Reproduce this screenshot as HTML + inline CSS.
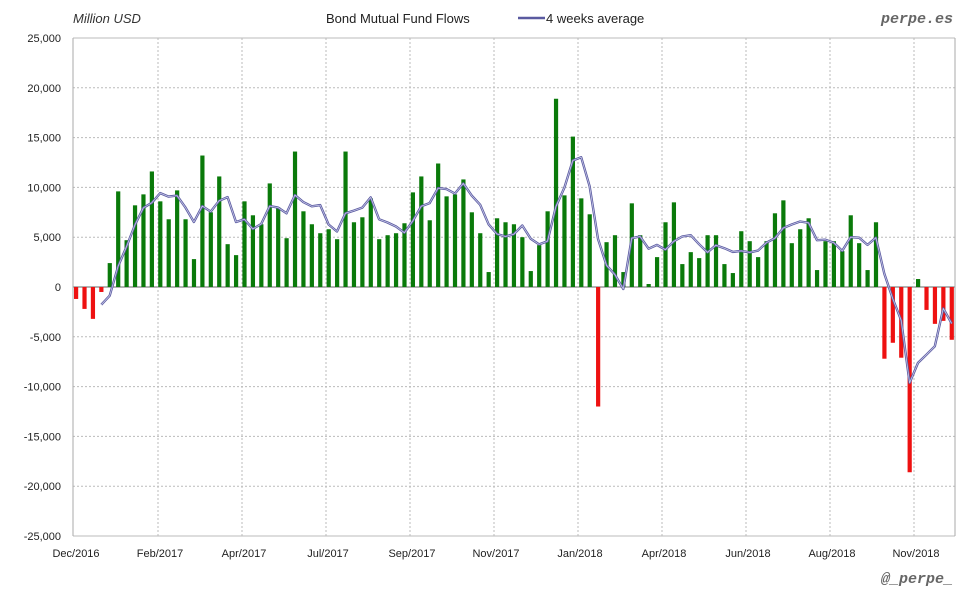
<!DOCTYPE html>
<html><head><meta charset="utf-8"><style>
body{margin:0;background:#fff;}
svg{display:block;font-family:"Liberation Sans",sans-serif;}
</style></head><body>
<svg id="s" width="980" height="600" xmlns="http://www.w3.org/2000/svg">
<rect width="980" height="600" fill="#fff"/>
<g id="grid"></g>
<g id="bars"></g>
<g id="lab" font-size="11" fill="#222"></g>
<polyline id="avg" fill="none" stroke="#5a5aa0" stroke-width="2.4" stroke-linejoin="round"/>
<polyline id="avg2" fill="none" stroke="#c8c8e8" stroke-width="0.8" stroke-linejoin="round"/>
<text x="73" y="23" font-size="13" font-style="italic" fill="#333">Million USD</text>
<text x="326" y="23" font-size="13" fill="#222">Bond Mutual Fund Flows</text>
<line x1="518" y1="18" x2="545" y2="18" stroke="#5a5aa0" stroke-width="2.4"/>
<text x="546" y="23" font-size="13" fill="#222">4 weeks average</text>
<text x="953" y="23" font-size="15" font-weight="bold" font-style="italic" fill="#666" text-anchor="end" font-family="Liberation Mono,monospace">perpe.es</text>
<text x="953" y="583" font-size="15" font-weight="bold" font-style="italic" fill="#666" text-anchor="end" font-family="Liberation Mono,monospace">@_perpe_</text>
</svg>
<script>
var d=[-1.2,-2.2,-3.2,-0.5,2.4,9.6,4.7,8.2,9.3,11.6,8.6,6.8,9.7,6.8,2.8,13.2,7.5,11.1,4.3,3.2,8.6,7.2,6.3,10.4,8.0,4.9,13.6,7.6,6.3,5.4,5.8,4.8,13.6,6.5,7.0,8.9,4.8,5.2,5.4,6.4,9.5,11.1,6.7,12.4,9.1,9.3,10.8,7.5,5.4,1.5,6.9,6.5,6.3,5.0,1.6,4.2,7.6,18.9,9.2,15.1,8.9,7.3,-12.0,4.5,5.2,1.5,8.4,5.2,0.3,3.0,6.5,8.5,2.3,3.5,2.9,5.2,5.2,2.3,1.4,5.6,4.6,3.0,4.6,7.4,8.7,4.4,5.8,6.9,1.7,4.6,4.6,3.6,7.2,4.4,1.7,6.5,-7.2,-5.6,-7.1,-18.6,0.8,-2.3,-3.7,-3.4,-5.3];
var NS="http://www.w3.org/2000/svg",L=73,R=955,Z=287,K=9.96;
function el(p,t,a,txt){var e=document.createElementNS(NS,t);for(var k in a)e.setAttribute(k,a[k]);if(txt)e.textContent=txt;document.getElementById(p).appendChild(e);return e;}
for(var i=-5;i<=5;i++){var y=Z-i*5*K;
 el('grid','line',{x1:L,x2:R,y1:y,y2:y,stroke:i==0?'#999':'#bbb','stroke-width':i==0?1.5:1,'stroke-dasharray':(i==0||Math.abs(i)==5)?'':'2,2'});
 var v=i*5000;var s=Math.abs(v).toLocaleString('en-US');if(v<0)s='-'+s;
 el('lab','text',{x:61,y:y+4,'text-anchor':'end'},s);}
var ml=['Dec/2016','Feb/2017','Apr/2017','Jul/2017','Sep/2017','Nov/2017','Jan/2018','Apr/2018','Jun/2018','Aug/2018','Nov/2018'];
for(var j=0;j<11;j++){var x=74+84*j;
 if(j>0)el('grid','line',{x1:x,x2:x,y1:38,y2:536,stroke:'#bbb','stroke-dasharray':'2,2'});
 el('lab','text',{x:x+2,y:557,'text-anchor':'middle'},ml[j]);}
el('grid','line',{x1:L,x2:L,y1:38,y2:536,stroke:'#aaa'});
el('grid','line',{x1:R,x2:R,y1:38,y2:536,stroke:'#aaa'});
var pts=[];
for(var i=0;i<d.length;i++){var x=76+8.42*i,h=d[i]*K;
 el('bars','rect',{x:x-2,width:4.2,y:h>0?Z-h:Z,height:Math.abs(h),fill:h>0?'#0a7a0a':'#ee1111'});
 if(i>=3){var m=(d[i]+d[i-1]+d[i-2]+d[i-3])/4;pts.push(x.toFixed(1)+','+(Z-m*K).toFixed(1));}}
document.getElementById('avg').setAttribute('points',pts.join(' '));
document.getElementById('avg2').setAttribute('points',pts.join(' '));
</script>
</body></html>
